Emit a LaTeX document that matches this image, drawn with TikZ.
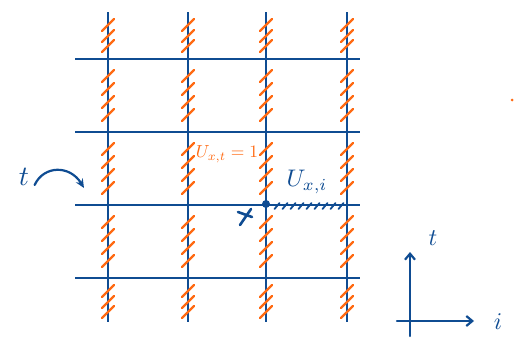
\documentclass[tikz,border=0pt]{standalone}
\usetikzlibrary{arrows.meta,calc}
\definecolor{penblue}{HTML}{0F4C92}
\definecolor{penorange}{HTML}{FF6A13}
\begin{document}
\begin{tikzpicture}[x=1pt,y=-1pt,
  gridline/.style={penblue,line width=2.4pt},
  hatch/.style={penorange,line width=2.2pt,line cap=round},
  tick/.style={penblue,line width=1.8pt,line cap=round},
  pen/.style={penblue,line width=2.2pt,line cap=round},
  lbl/.style={inner sep=0pt}]
\useasboundingbox (0,0) rectangle (519,340);
% grid
\foreach \y in {59,132,205,278} \draw[gridline] (75,\y) -- (360,\y);
\foreach \x in {108,188,266,347} \draw[gridline] (\x,12) -- (\x,322);
% hatches on vertical links
\foreach \x in {108,188,266,347}{
  \foreach \y in {25,36,46}{\draw[hatch] (\x-6,\y+6) .. controls (\x,\y) .. (\x+6,\y-6);}
  \foreach \s in {59,132,205}{
    \foreach \d in {17,30,43,56}{\draw[hatch] (\x-6,\s+\d+6) .. controls (\x,\s+\d) .. (\x+6,\s+\d-6);}
  }
  \foreach \y in {291,302,312}{\draw[hatch] (\x-6,\y+6) .. controls (\x,\y) .. (\x+6,\y-6);}
}
% special link
\node[circle,fill=penblue,inner sep=0pt,minimum size=8pt] (site) at (266,204) {};
\foreach \x in {277,285,293,301,309,317,325,333,341}{\draw[tick] (\x-2.5,209) -- (\x+2.5,203);}
\node[lbl,text=penorange,scale=1.75] (ut) at (227,154) {$U_{x,t}=1$};
\node[lbl,text=penblue,scale=2.4] (ui) at (307,182) {$U_{x,i}$};
% cross mark
\coordinate (xm) at (245,216);
\draw[pen,line width=2.6pt] ($(xm)+(6,-7)$) -- ($(xm)+(-5,9)$);
\draw[pen,line width=2.6pt] ($(xm)+(-7,-4)$) -- ($(xm)+(7,1)$);
% t with curved arrow
\node[lbl,text=penblue,scale=2.8] (tl) at (24,177) {$t$};
\coordinate (tend) at (84,188);
\draw[pen,-{Stealth[length=9pt,width=8pt]}] (tl.east) ++(5,8) .. controls (44,165) and (70,165) .. (tend);
% axes
\coordinate (o) at (410,321);
\coordinate (otop) at (410,252);
\coordinate (oright) at (474,321);
\draw[pen,-{Straight Barb[length=6pt,width=10pt]}] (410,336) -- (otop);
\draw[pen,-{Straight Barb[length=6pt,width=10pt]}] (397,321) -- (oright);
\node[lbl,text=penblue,scale=2.4] (ta) at (433,238) {$t$};
\node[lbl,text=penblue,scale=2.4] (ia) at (498,322) {$i$};
% stray dot
\node[circle,fill=penorange,inner sep=0pt,minimum size=3pt] (dot) at (512,100) {};
\end{tikzpicture}
\end{document}
